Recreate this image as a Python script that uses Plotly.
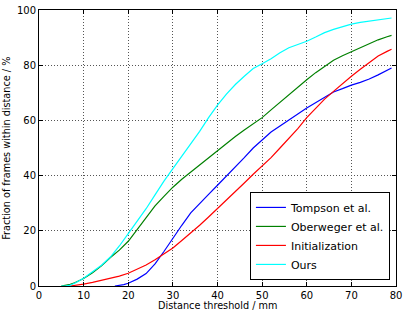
import plotly.graph_objects as go

tompson_x = [17, 18, 19, 20, 22, 24, 26, 28, 30, 32, 34, 36, 38, 40, 42, 44, 46, 48, 50, 52, 54, 56, 58, 60, 62, 64, 66, 68, 70, 72, 74, 76, 78, 79]
tompson_y = [0, 0.2, 0.5, 1, 2.5, 4.5, 8, 12.5, 17.5, 22, 26.5, 30, 33.2, 36.5, 39.8, 43, 46.5, 50, 53, 55.8, 58, 60, 62.3, 64.5, 66.5, 68.5, 70.3, 71.5, 72.8, 73.8, 75, 76.5, 78, 79]

ober_x = [5, 6, 7, 8, 10, 12, 14, 16, 18, 20, 22, 24, 26, 28, 30, 32, 34, 36, 38, 40, 42, 44, 46, 48, 50, 52, 54, 56, 58, 60, 62, 64, 66, 68, 70, 72, 74, 76, 78, 79]
ober_y = [0, 0.2, 0.6, 1.2, 2.7, 4.8, 7.3, 10.3, 13, 16.2, 20.5, 25, 29, 32.5, 35.8, 38.7, 41.3, 43.9, 46.5, 49.2, 51.8, 54.2, 56.5, 58.8, 61, 63.8, 66.6, 69.3, 72, 74.7, 77.3, 79.6, 81.8, 83.4, 84.8, 86.3, 87.8, 89.2, 90.3, 90.8]

init_x = [7, 8, 10, 12, 14, 16, 18, 20, 22, 24, 26, 28, 30, 32, 34, 36, 38, 40, 42, 44, 46, 48, 50, 52, 54, 56, 58, 60, 62, 64, 66, 68, 70, 72, 74, 76, 78, 79]
init_y = [0, 0.2, 0.7, 1.3, 2, 2.8, 3.6, 4.6, 6, 7.6, 9.5, 11.5, 13.8, 16.5, 19.2, 22, 25, 28, 31, 34, 37.3, 40.5, 43.5, 46.5, 50, 53.5, 57, 61, 64.5, 67.7, 70.5, 73.3, 76, 78.5, 81, 83.3, 85, 85.8]

ours_x = [5, 6, 7, 8, 10, 12, 14, 16, 18, 20, 22, 24, 26, 28, 30, 32, 34, 36, 38, 40, 42, 44, 46, 48, 50, 52, 54, 56, 58, 60, 62, 64, 66, 68, 70, 72, 74, 76, 78, 79]
ours_y = [0, 0, 0.3, 1, 2.8, 5, 7.5, 10.5, 14.5, 19, 23.5, 28, 33, 38, 42.5, 47, 51.5, 56, 61, 65.5, 69.5, 73, 76, 78.8, 80.5, 82.3, 84.5, 86.3, 87.5, 88.7, 90.2, 91.8, 93, 94, 94.9, 95.5, 96, 96.4, 96.9, 97.1]

x_ticks = [0, 10, 20, 30, 40, 50, 60, 70, 80]
y_ticks = [0, 20, 40, 60, 80, 100]

x_title = "Distance threshold / mm"
y_title = "Fraction of frames within distance / %"

series = [
    ("Tompson et al.", tompson_x, tompson_y, "#0000ff"),
    ("Oberweger et al.", ober_x, ober_y, "#008000"),
    ("Initialization", init_x, init_y, "#ff0000"),
    ("Ours", ours_x, ours_y, "#00ffff"),
]

fig = go.Figure()
for name, xs, ys, col in series:
    fig.add_trace(go.Scatter(x=xs, y=ys, mode="lines", name=name,
                             line=dict(color=col, width=1.2)))

axis_common = dict(
    showline=True, linecolor="black", linewidth=1, mirror="allticks",
    ticks="inside", ticklen=4, tickcolor="black", automargin=False,
    showgrid=True, gridcolor="#555555", griddash="1px,2px", gridwidth=1,
    zeroline=False, tickfont=dict(family="DejaVu Sans", size=10, color="black"),
)

fig.update_xaxes(range=[0, 80], tickvals=x_ticks, **axis_common)
fig.update_yaxes(range=[0, 100], tickvals=y_ticks, **axis_common)

title_font = dict(family="DejaVu Sans", size=9.7, color="black")
fig.add_annotation(text=x_title, xref="paper", yref="paper", x=0.5, y=-0.071,
                   xanchor="center", yanchor="middle", showarrow=False, font=title_font)
fig.add_annotation(text=y_title, xref="paper", yref="paper", x=-0.093, y=0.5,
                   xanchor="center", yanchor="middle", textangle=-90,
                   showarrow=False, font=title_font)

fig.update_layout(
    width=407, height=318,
    margin=dict(l=39, r=11, t=10, b=32),
    paper_bgcolor="white", plot_bgcolor="white",
    font=dict(family="DejaVu Sans", color="black"),
    legend=dict(x=0.983, y=0.022, xanchor="right", yanchor="bottom",
                bgcolor="white", bordercolor="black", borderwidth=1,
                font=dict(family="DejaVu Sans", size=11, color="black"),
                itemwidth=30, tracegroupgap=0),
)

fig.write_html("out.html", config={"displayModeBar": False},
               post_script="document.body.style.margin='0';")
